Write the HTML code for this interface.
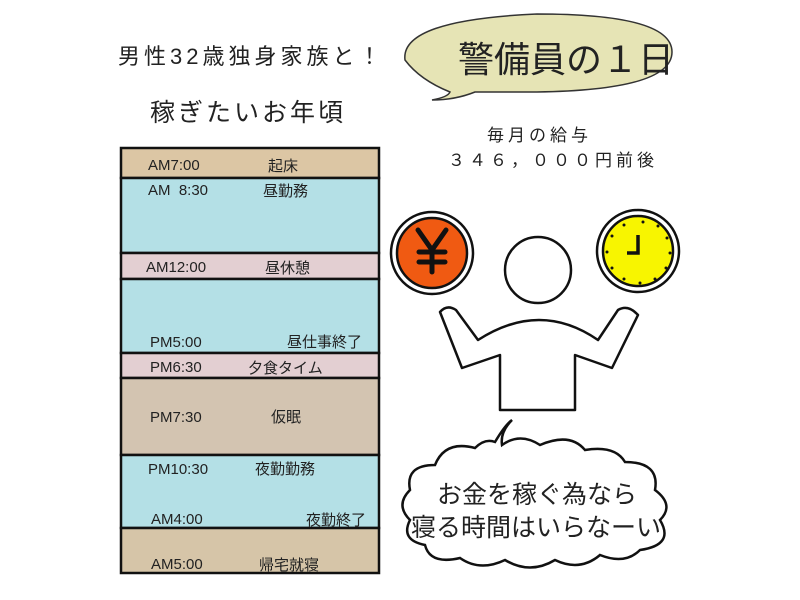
<!DOCTYPE html>
<html><head><meta charset="utf-8"><style>
body{margin:0;width:800px;height:600px;background:#fff;overflow:hidden;font-family:"Liberation Sans","Noto Sans CJK JP",sans-serif;}
.t{position:absolute;white-space:nowrap;color:#222;}
</style></head><body>
<svg width="800" height="600" style="position:absolute;left:0;top:0">
<g stroke="#111" stroke-width="2.5">
<rect x="121" y="148" width="258" height="30" fill="#dcc6a4"/>
<rect x="121" y="178" width="258" height="75" fill="#b4e0e6"/>
<rect x="121" y="253" width="258" height="26" fill="#e3cfd2"/>
<rect x="121" y="279" width="258" height="74" fill="#b4e0e6"/>
<rect x="121" y="353" width="258" height="25" fill="#e3cfd2"/>
<rect x="121" y="378" width="258" height="77" fill="#d3c4b1"/>
<rect x="121" y="455" width="258" height="73" fill="#b4e0e6"/>
<rect x="121" y="528" width="258" height="45" fill="#d6c5a8"/>
</g>
<path d="M450 92 Q420 80 405 60 Q400 20 537 14 Q672 14 672 52 Q672 90 537 92 Q490 92 475 92 Q455 100 432 100 Q448 97 450 92Z" fill="#e6e4b5" stroke="#333" stroke-width="1.5"/>
<circle cx="432" cy="253" r="41" fill="#fff" stroke="#111" stroke-width="2.5"/>
<circle cx="432" cy="253" r="35" fill="#f05a12" stroke="#111" stroke-width="2.5"/>
<path d="M418 230 L432 250 L446 230 M432 250 L432 272 M419 252 H445 M419 262 H445" stroke="#111" stroke-width="5" fill="none" stroke-linecap="round"/>
<circle cx="638" cy="251" r="41" fill="#fff" stroke="#111" stroke-width="2.5"/>
<circle cx="638" cy="251" r="35" fill="#f8f500" stroke="#111" stroke-width="2.5"/>
<g fill="#111">
<circle cx="643" cy="222" r="1.5"/><circle cx="658" cy="226" r="1.5"/><circle cx="667" cy="238" r="1.5"/><circle cx="670" cy="253" r="1.5"/><circle cx="666" cy="268" r="1.5"/><circle cx="655" cy="279" r="1.5"/><circle cx="640" cy="283" r="1.5"/><circle cx="624" cy="279" r="1.5"/><circle cx="612" cy="268" r="1.5"/><circle cx="607" cy="252" r="1.5"/><circle cx="612" cy="236" r="1.5"/><circle cx="624" cy="225" r="1.5"/>
</g>
<path d="M638 235 V253 H627" stroke="#111" stroke-width="3.5" fill="none"/>
<circle cx="538" cy="270" r="33" fill="#fff" stroke="#111" stroke-width="2.5"/>
<path d="M440 312 Q447 304 456 310 L478 340 Q540 300 598 340 L618 310 Q628 304 638 315 L612 368 L575 355 L575 410 L500 410 L500 355 L462 368 Z" fill="#fff" stroke="#111" stroke-width="2.5" stroke-linejoin="round"/>
<path d="M495 442 Q505 425 512 420 Q500 432 502 445 Q520 432 540 445 Q570 432 585 450 Q615 445 625 462 Q660 462 655 490 Q675 505 660 520 Q675 545 640 550 Q625 565 600 555 Q580 572 555 560 Q530 575 505 560 Q480 572 460 558 Q430 565 425 545 Q400 540 410 520 Q395 505 410 490 Q405 465 435 465 Q445 440 475 448 Q485 438 495 442Z" fill="#fff" stroke="#111" stroke-width="2.5"/>
</svg>
<div class="t" style="left:118px;top:39px;font-size:22px;letter-spacing:4px;">男性32歳独身家族と！</div>
<div class="t" style="left:150px;top:93px;font-size:25px;letter-spacing:3px;">稼ぎたいお年頃</div>
<div class="t" style="left:458px;top:31px;font-size:36px;">警備員の１日</div>
<div class="t" style="left:487px;top:121px;font-size:17px;letter-spacing:4px;">毎月の給与</div>
<div class="t" style="left:448px;top:146px;font-size:17px;letter-spacing:4px;">３４６，０００円前後</div>
<div class="t" style="left:148px;top:157px;font-size:15px;">AM7:00</div><div class="t" style="left:268px;top:155px;font-size:15px;">起床</div>
<div class="t" style="left:148px;top:182px;font-size:15px;">AM&nbsp; 8:30</div><div class="t" style="left:263px;top:180px;font-size:15px;">昼勤務</div>
<div class="t" style="left:146px;top:259px;font-size:15px;">AM12:00</div><div class="t" style="left:265px;top:257px;font-size:15px;">昼休憩</div>
<div class="t" style="left:150px;top:334px;font-size:15px;">PM5:00</div><div class="t" style="left:287px;top:331px;font-size:15px;">昼仕事終了</div>
<div class="t" style="left:150px;top:359px;font-size:15px;">PM6:30</div><div class="t" style="left:248px;top:357px;font-size:15px;">夕食タイム</div>
<div class="t" style="left:150px;top:409px;font-size:15px;">PM7:30</div><div class="t" style="left:271px;top:406px;font-size:15px;">仮眠</div>
<div class="t" style="left:148px;top:461px;font-size:15px;">PM10:30</div><div class="t" style="left:255px;top:458px;font-size:15px;">夜勤勤務</div>
<div class="t" style="left:151px;top:511px;font-size:15px;">AM4:00</div><div class="t" style="left:306px;top:509px;font-size:15px;">夜勤終了</div>
<div class="t" style="left:151px;top:556px;font-size:15px;">AM5:00</div><div class="t" style="left:259px;top:554px;font-size:15px;">帰宅就寝</div>
<div class="t" style="left:437px;top:475px;font-size:25px;">お金を稼ぐ為なら</div>
<div class="t" style="left:411px;top:508px;font-size:25px;">寝る時間はいらなーい</div>
</body></html>
